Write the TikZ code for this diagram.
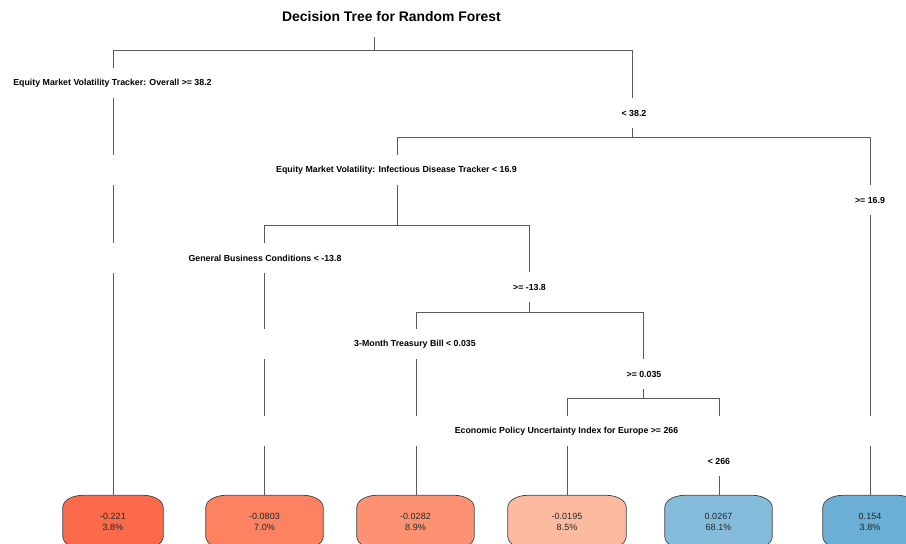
\documentclass[tikz,border=0pt]{standalone}
\usepackage{fontspec}
\setmainfont{Liberation Sans}
\usetikzlibrary{backgrounds}

\definecolor{linegray}{HTML}{5A5A5A}
\definecolor{boxgray}{HTML}{404040}
\definecolor{leafA}{HTML}{FB6A4A}
\definecolor{leafB}{HTML}{FC8262}
\definecolor{leafC}{HTML}{FC9272}
\definecolor{leafD}{HTML}{FCBBA1}
\definecolor{leafE}{HTML}{85BCDB}
\definecolor{leafF}{HTML}{6BAED6}

% box with elliptic corners round a leaf node
\newcommand{\leafshape}[2]{%
\draw[leafedge, fill=#2] ([xshift=20pt]#1.north west) -- ([xshift=-20pt]#1.north east)
  arc[start angle=90, end angle=0, x radius=20pt, y radius=12pt] -- ([yshift=12pt]#1.south east)
  arc[start angle=0, end angle=-90, x radius=20pt, y radius=12pt] -- ([xshift=20pt]#1.south west)
  arc[start angle=270, end angle=180, x radius=20pt, y radius=12pt] -- ([yshift=-12pt]#1.north west)
  arc[start angle=180, end angle=90, x radius=20pt, y radius=12pt] -- cycle;}

\begin{document}
\begin{tikzpicture}[x=1pt,y=-1pt,
  split/.style={font=\fontsize{8.8}{10}\selectfont\bfseries, inner sep=0pt, minimum height=30pt},
  leaf/.style={font=\fontsize{9}{11}\selectfont, text=black!85, align=center, inner sep=0pt, minimum height=53pt, minimum width=#1},
  branch/.style={draw=linegray, line width=0.65pt},
  leafedge/.style={draw=boxgray, line width=0.7pt}]
\useasboundingbox (0,0) rectangle (906,544);

\node[font=\fontsize{13.9}{16}\selectfont\bfseries] (title) at (391.5,17) {Decision Tree for Random Forest};

% split labels
\node[split] (s1) at (112.5,83) {Equity Market Volatility Tracker: Overall >= 38.2};
\node[split] (n1) at (634,113) {< 38.2};
\node[split] (s2) at (396.5,170) {Equity Market Volatility: Infectious Disease Tracker < 16.9};
\node[split] (n2) at (870,200) {>= 16.9};
\node[split] (s3) at (265,258) {General Business Conditions < -13.8};
\node[split] (n3) at (529.5,287) {>= -13.8};
\node[split] (s4) at (415,344) {3-Month Treasury Bill < 0.035};
\node[split] (n4) at (644,374) {>= 0.035};
\node[split] (s5) at (566.5,431) {Economic Policy Uncertainty Index for Europe >= 266};
\node[split] (n5) at (719,461) {< 266};

% leaves
\node[leaf=100pt] (l1) at (113,522) {-0.221\\3.8\%};
\node[leaf=117pt] (l2) at (264.5,522) {-0.0803\\7.0\%};
\node[leaf=117pt] (l3) at (415.5,522) {-0.0282\\8.9\%};
\node[leaf=118pt] (l4) at (567,522) {-0.0195\\8.5\%};
\node[leaf=107pt] (l5) at (718.5,522) {0.0267\\68.1\%};
\node[leaf=94pt] (l6) at (870,522) {0.154\\3.8\%};

\begin{pgfonlayer}{background}
\leafshape{l1}{leafA}
\leafshape{l2}{leafB}
\leafshape{l3}{leafC}
\leafshape{l4}{leafD}
\leafshape{l5}{leafE}
\leafshape{l6}{leafF}
\end{pgfonlayer}

% bars
\coordinate (top) at (374,37);
\coordinate (b1) at (374,50);
\coordinate (b1l) at (113,50);
\coordinate (b1r) at (632,50);
\coordinate (b2l) at (397,137);
\coordinate (b2r) at (870,137);
\coordinate (b3l) at (264,225);
\coordinate (b3r) at (529,225);
\coordinate (b4l) at (416,312);
\coordinate (b4r) at (643,312);
\coordinate (b5l) at (567,398);
\coordinate (b5r) at (719,398);

\draw[branch] (top) -- (b1);
\draw[branch] (b1l) -- (b1r);
\draw[branch] (b2l) -- (b2r);
\draw[branch] (b3l) -- (b3r);
\draw[branch] (b4l) -- (b4r);
\draw[branch] (b5l) -- (b5r);

% branches, broken at the label rows
\draw[branch] (b1l) -- (b1l |- s1.north);
\draw[branch] (b1l |- s1.south) -- (b1l |- s2.north);
\draw[branch] (b1l |- s2.south) -- (b1l |- s3.north);
\draw[branch] (b1l |- s3.south) -- (l1.north);

\draw[branch] (b1r) -- (b1r |- n1.north);
\draw[branch] (b1r |- n1.south) -- (b1r |- b2l);

\draw[branch] (b2l) -- (b2l |- s2.north);
\draw[branch] (b2l |- s2.south) -- (b2l |- b3l);

\draw[branch] (b2r) -- (b2r |- n2.north);
\draw[branch] (b2r |- n2.south) -- (b2r |- s5.north);
\draw[branch] (b2r |- s5.south) -- (l6.north);

\draw[branch] (b3l) -- (b3l |- s3.north);
\draw[branch] (b3l |- s3.south) -- (b3l |- s4.north);
\draw[branch] (b3l |- s4.south) -- (b3l |- s5.north);
\draw[branch] (b3l |- s5.south) -- (b3l |- l2.north);

\draw[branch] (b3r) -- (b3r |- n3.north);
\draw[branch] (b3r |- n3.south) -- (b3r |- b4l);

\draw[branch] (b4l) -- (b4l |- s4.north);
\draw[branch] (b4l |- s4.south) -- (b4l |- s5.north);
\draw[branch] (b4l |- s5.south) -- (b4l |- l3.north);

\draw[branch] (b4r) -- (b4r |- n4.north);
\draw[branch] (b4r |- n4.south) -- (b4r |- b5l);

\draw[branch] (b5l) -- (b5l |- s5.north);
\draw[branch] (b5l |- s5.south) -- (l4.north);

\draw[branch] (b5r) -- (b5r |- s5.north);
\draw[branch] (b5r |- n5.south) -- (b5r |- l5.north);
\end{tikzpicture}
\end{document}
